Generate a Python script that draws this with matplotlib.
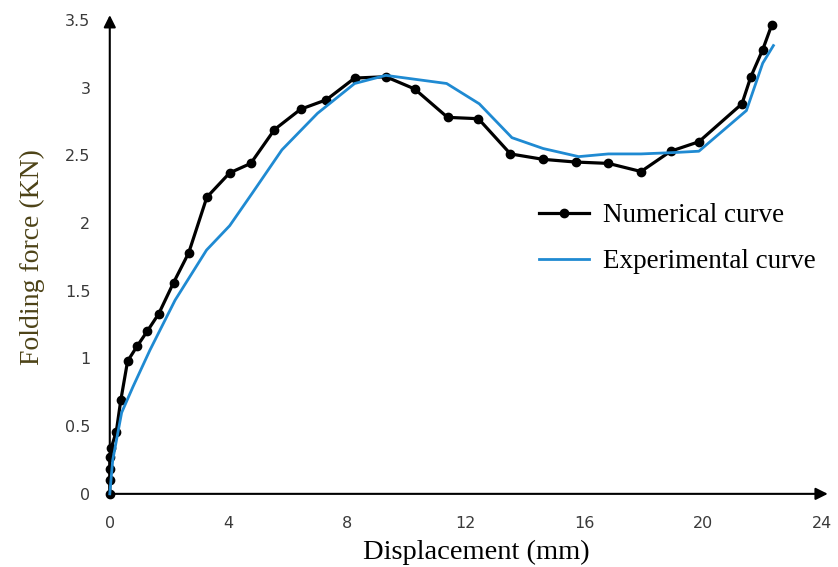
import matplotlib
matplotlib.use("Agg")
import matplotlib.pyplot as plt

num_x = [0, 0, 0, 0, 0.05, 0.22, 0.37, 0.6, 0.92, 1.26, 1.65, 2.15, 2.66, 3.27, 4.04, 4.75,
         5.55, 6.43, 7.3, 8.25, 9.3, 10.27, 11.38, 12.42, 13.5, 14.6, 15.7, 16.8, 17.9,
         18.9, 19.85, 21.3, 21.6, 22.0, 22.3]
num_y = [0, 0.1, 0.18, 0.27, 0.34, 0.46, 0.69, 0.98, 1.09, 1.20, 1.33, 1.56, 1.78, 2.19, 2.37, 2.44,
         2.69, 2.84, 2.91, 3.07, 3.08, 2.99, 2.78, 2.77, 2.51, 2.47, 2.45, 2.44, 2.38,
         2.53, 2.60, 2.88, 3.08, 3.28, 3.46]

exp_x = [0, 0.1, 0.4, 0.78, 1.35, 2.2, 3.26, 4.04, 4.8, 5.8, 7.0, 8.25, 9.3, 11.35, 12.45,
         13.55, 14.6, 15.8, 16.8, 17.9, 19.0, 19.85, 21.45, 22.0, 22.36]
exp_y = [0, 0.25, 0.6, 0.79, 1.06, 1.43, 1.80, 1.98, 2.22, 2.54, 2.81, 3.03, 3.09, 3.03, 2.88,
         2.63, 2.55, 2.49, 2.51, 2.51, 2.52, 2.53, 2.83, 3.18, 3.31]

x_ticks = [0, 4, 8, 12, 16, 20, 24]
y_ticks = [0, 0.5, 1, 1.5, 2, 2.5, 3, 3.5]
y_tick_labels = ["0", "0.5", "1", "1.5", "2", "2.5", "3", "3.5"]

fig = plt.figure(figsize=(8.38, 5.67), dpi=100)
ax = fig.add_axes([0.131, 0.129, 0.850, 0.836])

ax.plot(num_x, num_y, color="black", lw=2.3, marker="o", ms=6, zorder=3,
        label="Numerical curve", clip_on=False)
ax.plot(exp_x, exp_y, color="#1f8ad2", lw=2.0, zorder=4, label="Experimental curve",
        clip_on=False)

ax.set_xlim(0, 24)
ax.set_ylim(0, 3.5)
ax.set_xticks(x_ticks)
ax.set_yticks(y_ticks)
ax.set_yticklabels(y_tick_labels)
ax.tick_params(length=0, labelsize=11.5, labelcolor="#3a3a3a")
ax.tick_params(axis="x", pad=16)
ax.tick_params(axis="y", pad=14)

for s in ["top", "right", "left", "bottom"]:
    ax.spines[s].set_visible(False)

# axis arrows
ax.annotate("", xy=(1.008, 0), xycoords="axes fraction", xytext=(0, 0),
            arrowprops=dict(arrowstyle="-|>", color="black", lw=1.5,
                            mutation_scale=18, shrinkA=0, shrinkB=0))
ax.annotate("", xy=(0, 1.01), xycoords="axes fraction", xytext=(0, 0),
            arrowprops=dict(arrowstyle="-|>", color="black", lw=1.5,
                            mutation_scale=18, shrinkA=0, shrinkB=0))

ax.set_xlabel("Displacement (mm)", family="Liberation Serif", fontsize=20.5, color="black",
              labelpad=6)
ax.xaxis.label.set_x(0.515)
ax.set_ylabel("Folding force (KN)", family="Liberation Serif", fontsize=20, color="#4d4317",
              labelpad=14)

leg = ax.legend(loc="center left", bbox_to_anchor=(0.614, 0.579),
                bbox_transform=fig.transFigure, frameon=False,
                prop={"family": "Liberation Serif", "size": 19.5},
                handlelength=1.85, labelspacing=0.78, handletextpad=0.5)

fig.savefig("out.png", dpi=100)
